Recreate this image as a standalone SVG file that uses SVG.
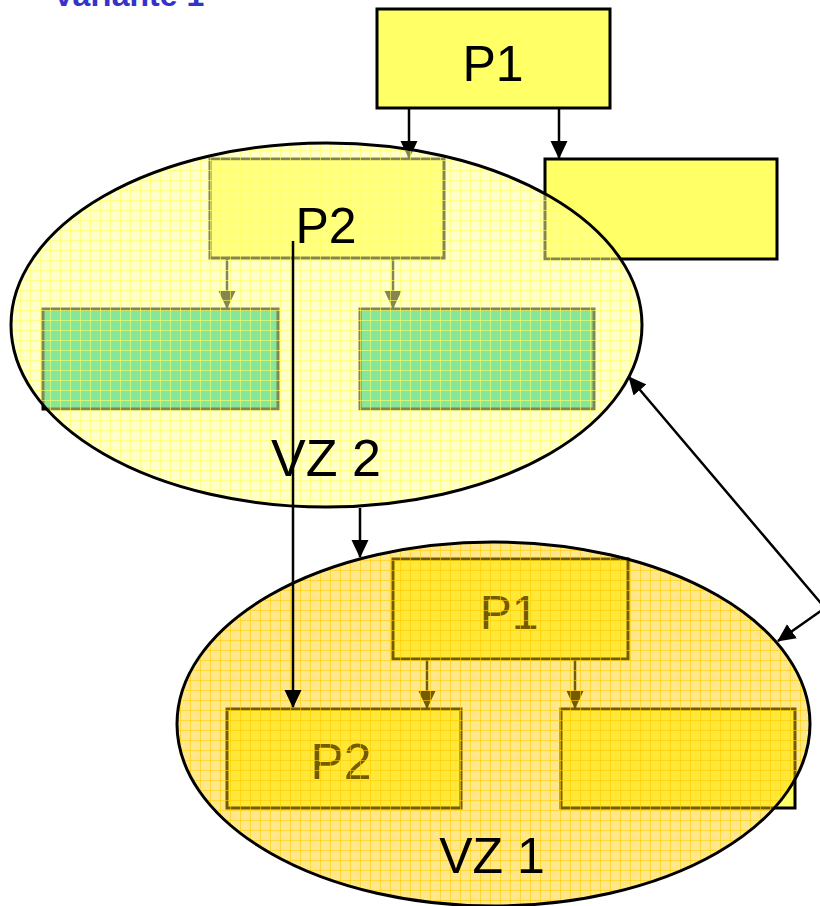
<svg xmlns="http://www.w3.org/2000/svg" width="820" height="906" viewBox="0 0 820 906">
  <defs>
    <style>
      .box { stroke: #000; stroke-width: 3; }
      .yel { fill: #FFFF66; }
      .grn { fill: #00CC99; }
      .lbl { font-family: "Liberation Sans", Arial, sans-serif; text-anchor: middle; fill: #000; }
      .conn { stroke: #000; stroke-width: 2.5; fill: none; }
      .rim { fill: none; stroke: #000; stroke-width: 3; }
    </style>
    <marker id="arr" markerUnits="userSpaceOnUse" markerWidth="18" markerHeight="18" viewBox="0 0 18 18" refX="17" refY="9" orient="auto">
      <path d="M0 0.5 L18 9 L0 17.5 Z" fill="#000"/>
    </marker>
    <marker id="arrS" markerUnits="userSpaceOnUse" markerWidth="18" markerHeight="18" viewBox="0 0 18 18" refX="1" refY="9" orient="auto">
      <path d="M18 0.5 L0 9 L18 17.5 Z" fill="#000"/>
    </marker>
    <pattern id="gridA" patternUnits="userSpaceOnUse" width="10" height="10">
      <rect width="10" height="10" fill="#FFFF99" fill-opacity="0.52"/>
      <path d="M0 0.5H10M0.5 0V10" stroke="#FFFF66" stroke-width="1" stroke-opacity="0.6"/>
    </pattern>
    <pattern id="gridB" patternUnits="userSpaceOnUse" width="10" height="10">
      <rect width="10" height="10" fill="#FFCC00" fill-opacity="0.45"/>
      <path d="M0 0.5H10M0.5 0V10" stroke="#FFCC00" stroke-width="1" stroke-opacity="0.6"/>
    </pattern>
  </defs>

  <rect width="820" height="906" fill="#FFFFFF"/>

  <text id="title" x="53" y="6" font-family="Liberation Sans, Arial, sans-serif" font-weight="bold" font-size="32" fill="#3333CC">Variante 1</text>

  <g id="inner-connectors">
    <line class="conn" x1="409" y1="108" x2="409" y2="158" marker-end="url(#arr)"/>
    <line class="conn" x1="559" y1="108" x2="559" y2="158" marker-end="url(#arr)"/>
    <line class="conn" x1="227" y1="258" x2="227" y2="308" marker-end="url(#arr)"/>
    <line class="conn" x1="393" y1="258" x2="393" y2="308" marker-end="url(#arr)"/>
    <line class="conn" x1="427" y1="659" x2="427" y2="708" marker-end="url(#arr)"/>
    <line class="conn" x1="575" y1="659" x2="575" y2="708" marker-end="url(#arr)"/>
  </g>

  <g id="node-P1-top">
    <rect class="box yel" x="377" y="9" width="233" height="99"/>
    <text class="lbl" x="493" y="81" font-size="50">P1</text>
  </g>
  <g id="node-right-top">
    <rect class="box yel" x="545" y="159" width="232" height="100"/>
  </g>
  <g id="node-P2-inner">
    <rect class="box yel" x="210" y="159" width="234" height="99"/>
  </g>
  <g id="node-green-left">
    <rect class="box grn" x="43" y="309" width="235" height="100"/>
  </g>
  <g id="node-green-right">
    <rect class="box grn" x="360" y="309" width="234" height="100"/>
  </g>
  <g id="node-P1-lower">
    <rect class="box yel" x="393" y="559" width="235" height="100"/>
    <text class="lbl" x="509" y="629" font-size="48">P1</text>
  </g>
  <g id="node-P2-lower">
    <rect class="box yel" x="227" y="709" width="234" height="99"/>
    <text class="lbl" x="341" y="779" font-size="50">P2</text>
  </g>
  <g id="node-right-lower">
    <rect class="box yel" x="561" y="709" width="234" height="99"/>
  </g>

  <g id="node-VZ2">
    <ellipse cx="326.5" cy="325" rx="315.5" ry="182" fill="url(#gridA)"/>
    <ellipse class="rim" cx="326.5" cy="325" rx="315.5" ry="182"/>
    <text class="lbl" x="326" y="243" font-size="50">P2</text>
    <text class="lbl" x="326" y="476" font-size="52">VZ 2</text>
  </g>

  <g id="node-VZ1">
    <ellipse cx="493.5" cy="724" rx="316.5" ry="182" fill="url(#gridB)"/>
    <ellipse class="rim" cx="493.5" cy="724" rx="316.5" ry="182"/>
    <text class="lbl" x="492" y="873" font-size="50">VZ 1</text>
  </g>

  <g id="connectors">
    <line class="conn" x1="360" y1="508" x2="360" y2="557" marker-end="url(#arr)"/>
    <line class="conn" x1="293" y1="241" x2="293" y2="707" marker-end="url(#arr)"/>
    <polyline class="conn" points="629,377 825,608 778,641" marker-start="url(#arrS)" marker-end="url(#arr)"/>
  </g>
</svg>
